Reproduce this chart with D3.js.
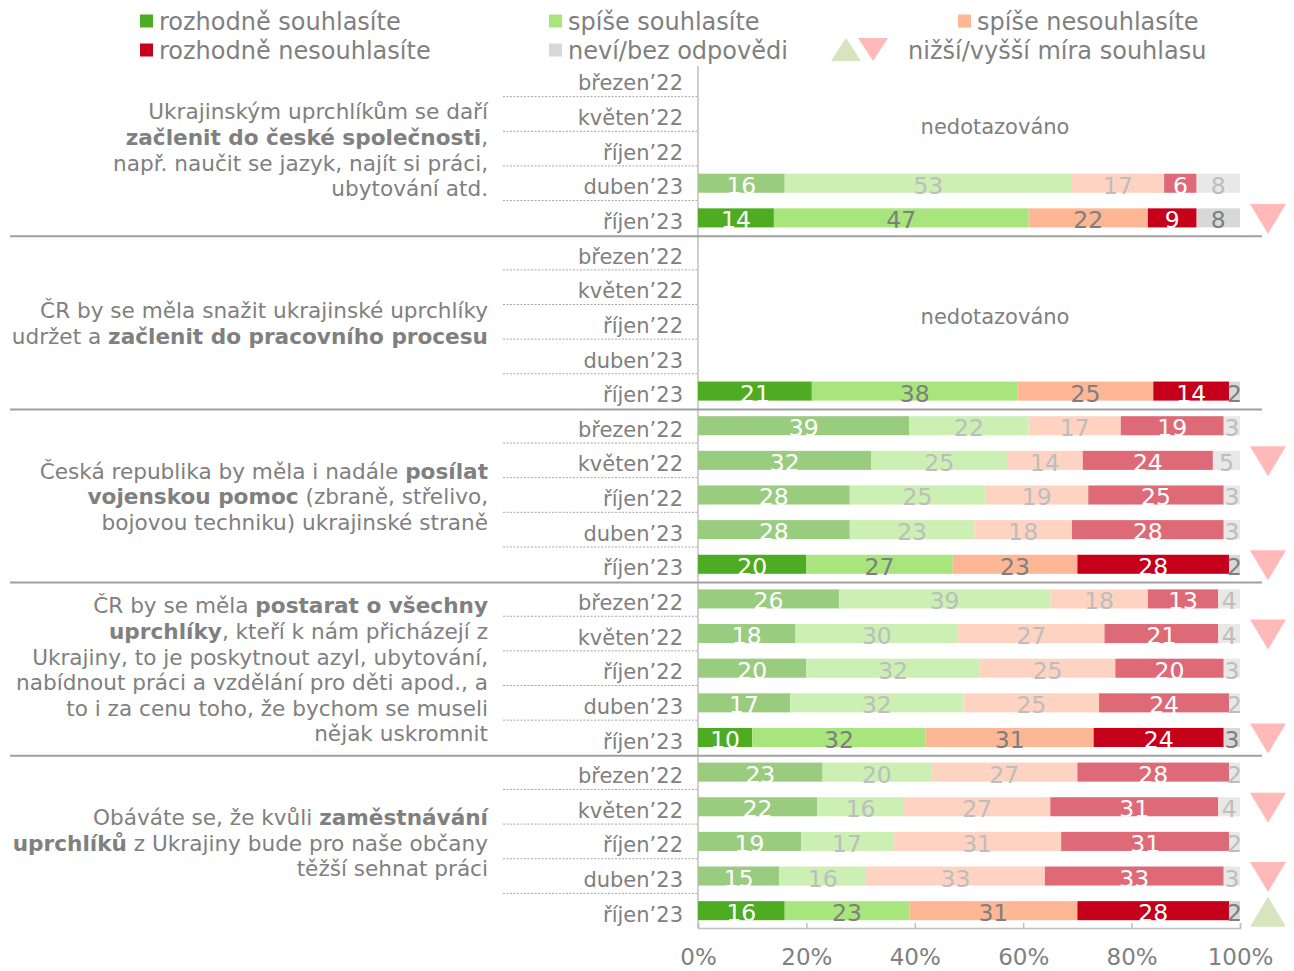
<!DOCTYPE html>
<html>
<head>
<meta charset="utf-8">
<script src="https://cdn.jsdelivr.net/npm/d3@7"></script>
<style>
  html, body { margin: 0; padding: 0; background: #fff; }
  svg { display: block; font-family: "DejaVu Sans", Verdana, sans-serif; }
</style>
</head>
<body>
<svg id="chart" width="1294" height="971"></svg>
<script>
// ---------------- DATA ----------------
const categories = ["rozhodně souhlasíte", "spíše souhlasíte", "spíše nesouhlasíte", "rozhodně nesouhlasíte", "neví/bez odpovědi"];
const waves = ["březen’22", "květen’22", "říjen’22", "duben’23", "říjen’23"];
const tickLabels = ["0%", "20%", "40%", "60%", "80%", "100%"];

// values per wave (null = nedotazováno)
const q1Values = [null, null, null, [16, 53, 17, 6, 8], [14, 47, 22, 9, 8]];
const q2Values = [null, null, null, null, [21, 38, 25, 14, 2]];
const q3Values = [[39, 22, 17, 19, 3], [32, 25, 14, 24, 5], [28, 25, 19, 25, 3], [28, 23, 18, 28, 3], [20, 27, 23, 28, 2]];
const q4Values = [[26, 39, 18, 13, 4], [18, 30, 27, 21, 4], [20, 32, 25, 20, 3], [17, 32, 25, 24, 2], [10, 32, 31, 24, 3]];
const q5Values = [[23, 20, 27, 28, 2], [22, 16, 27, 31, 4], [19, 17, 31, 31, 2], [15, 16, 33, 33, 3], [16, 23, 31, 28, 2]];

// significance markers per wave: "down" = lower agreement, "up" = higher
const q1Marks = [null, null, null, null, "down"];
const q2Marks = [null, null, null, null, null];
const q3Marks = [null, "down", null, null, "down"];
const q4Marks = [null, "down", null, null, "down"];
const q5Marks = [null, "down", null, "down", "up"];

// question texts (segments: [text, bold])
const q1Text = [
  [["Ukrajinským uprchlíkům se daří", false]],
  [["začlenit do české společnosti", true], [",", false]],
  [["např. naučit se jazyk, najít si práci,", false]],
  [["ubytování atd.", false]]
];
const q2Text = [
  [["ČR by se měla snažit ukrajinské uprchlíky", false]],
  [["udržet a ", false], ["začlenit do pracovního procesu", true]]
];
const q3Text = [
  [["Česká republika by měla i nadále ", false], ["posílat", true]],
  [["vojenskou pomoc", true], [" (zbraně, střelivo,", false]],
  [["bojovou techniku) ukrajinské straně", false]]
];
const q4Text = [
  [["ČR by se měla ", false], ["postarat o všechny", true]],
  [["uprchlíky", true], [", kteří k nám přicházejí z", false]],
  [["Ukrajiny, to je poskytnout azyl, ubytování,", false]],
  [["nabídnout práci a vzdělání pro děti apod., a", false]],
  [["to i za cenu toho, že bychom se museli", false]],
  [["nějak uskromnit", false]]
];
const q5Text = [
  [["Obáváte se, že kvůli ", false], ["zaměstnávání", true]],
  [["uprchlíků", true], [" z Ukrajiny bude pro naše občany", false]],
  [["těžší sehnat práci", false]]
];

const notAsked = "nedotazováno";
const markLegend = "nižší/vyšší míra souhlasu";

// ---------------- STYLE ----------------
const strongColors = ["#4EAC22", "#A8E57C", "#FDB794", "#C6001A", "#D8D8D8"];
const fadedColors  = ["#99CC7F", "#CCEFB4", "#FFD3C2", "#DF6A77", "#E8E8E8"];
const strongText = ["#FFFFFF", "#7F7F7F", "#7F7F7F", "#FFFFFF", "#7F7F7F"];
const fadedText  = ["#FFFFFF", "#BDBDBD", "#BDBDBD", "#FFFFFF", "#BDBDBD"];
const greyText = "#808080";
const downColor = "#FFB9B9";
const upColor = "#D7E4BD";

const questions = [
  { text: q1Text, values: q1Values, marks: q1Marks },
  { text: q2Text, values: q2Values, marks: q2Marks },
  { text: q3Text, values: q3Values, marks: q3Marks },
  { text: q4Text, values: q4Values, marks: q4Marks },
  { text: q5Text, values: q5Values, marks: q5Marks }
];

// ---------------- SCALES ----------------
const svg = d3.select("#chart");
const x = d3.scaleLinear().domain([0, 100]).range([698, 1240]);
const rowIds = d3.range(questions.length * waves.length);
const y = d3.scaleBand().domain(rowIds).range([62, 928]).paddingInner(0.45).paddingOuter(0.225);
const step = y.step();
const bw = y.bandwidth();
const rc = i => y(i) + bw / 2;           // row center
const rb = i => y(i) + bw / 2 + step / 2; // boundary below row

// ---------------- LEGEND ----------------
const legendItems = [
  { c: 0, x: 140, y: 21 }, { c: 1, x: 549, y: 21 }, { c: 2, x: 958, y: 21 },
  { c: 3, x: 140, y: 50 }, { c: 4, x: 549, y: 50 }
];
const lg = svg.append("g");
legendItems.forEach(it => {
  lg.append("rect").attr("x", it.x).attr("y", it.y - 6.5).attr("width", 13).attr("height", 13)
    .attr("fill", strongColors[it.c]);
  lg.append("text").attr("x", it.x + 19).attr("y", it.y).attr("dy", "0.36em")
    .attr("font-size", 24).attr("fill", greyText).text(categories[it.c]);
});
lg.append("path").attr("d", "M831,61 L846,38 L861,61 Z").attr("fill", upColor);
lg.append("path").attr("d", "M858,38 L888,38 L873,61 Z").attr("fill", downColor);
lg.append("text").attr("x", 908).attr("y", 50).attr("dy", "0.36em")
  .attr("font-size", 24).attr("fill", greyText).text(markLegend);

// ---------------- GRID / SEPARATORS ----------------
const grid = svg.append("g");
grid.append("line").attr("x1", x(0)).attr("x2", x(0)).attr("y1", 66).attr("y2", 928)
  .attr("stroke", "#BFBFBF").attr("stroke-width", 1.5);

questions.forEach((q, qi) => {
  waves.forEach((w, wi) => {
    const r = qi * waves.length + wi;
    if (wi < waves.length - 1) {
      grid.append("line").attr("x1", 503).attr("x2", 697).attr("y1", rb(r)).attr("y2", rb(r))
        .attr("stroke", "#A6A6A6").attr("stroke-width", 1).attr("stroke-dasharray", "2,1.5");
    } else if (qi < questions.length - 1) {
      grid.append("line").attr("x1", 10).attr("x2", 1262).attr("y1", rb(r) + 1).attr("y2", rb(r) + 1)
        .attr("stroke", "#A0A0A0").attr("stroke-width", 2);
    }
  });
});

// ---------------- ROWS ----------------
const body = svg.append("g");
questions.forEach((q, qi) => {
  const first = qi * waves.length;
  waves.forEach((w, wi) => {
    const r = first + wi;
    body.append("text").attr("x", 683).attr("y", rc(r) + 3.5).attr("dy", "0.36em")
      .attr("text-anchor", "end").attr("font-size", 21).attr("fill", greyText).text(w);
  });

  const mid = rc(first + 2) + 1.5;
  const lh = 25.6;
  const top = mid - (q.text.length - 1) * lh / 2;
  q.text.forEach((line, li) => {
    const t = body.append("text").attr("x", 488).attr("y", top + li * lh).attr("dy", "0.36em")
      .attr("text-anchor", "end").attr("font-size", 21.6).attr("fill", greyText);
    line.forEach(seg => {
      t.append("tspan").attr("font-weight", seg[1] ? "bold" : "normal").text(seg[0]);
    });
  });

  const missing = q.values.map((v, i) => v === null ? i : -1).filter(i => i >= 0);
  if (missing.length) {
    const a = rc(first + missing[0]), b = rc(first + missing[missing.length - 1]);
    body.append("text").attr("x", 995).attr("y", (a + b) / 2 + 12).attr("dy", "0.36em")
      .attr("text-anchor", "middle").attr("font-size", 21).attr("fill", greyText).text(notAsked);
  }

  q.values.forEach((vals, wi) => {
    if (!vals) return;
    const r = first + wi;
    const strong = wi === waves.length - 1;
    const fills = strong ? strongColors : fadedColors;
    const tcol = strong ? strongText : fadedText;
    const cum = d3.cumsum(vals);
    const segs = vals.map((v, k) => ({ v, k, x0: k === 0 ? 0 : cum[k - 1], x1: cum[k] }));
    const g = body.append("g");
    g.selectAll("rect").data(segs).join("rect")
      .attr("x", d => x(d.x0)).attr("width", d => x(d.x1) - x(d.x0))
      .attr("y", y(r)).attr("height", bw).attr("fill", d => fills[d.k]);
    g.selectAll("text").data(segs).join("text")
      .attr("x", d => (x(d.x0) + x(d.x1)) / 2).attr("y", rc(r) + 2).attr("dy", "0.36em")
      .attr("text-anchor", "middle").attr("font-size", 23.5)
      .attr("fill", d => tcol[d.k]).text(d => d.v);
  });

  q.marks.forEach((m, wi) => {
    if (!m) return;
    const cy = rc(first + wi) + 1, cx = 1268, hw = 18, hh = 15;
    const d = m === "down"
      ? `M${cx - hw},${cy - hh} L${cx + hw},${cy - hh} L${cx},${cy + hh} Z`
      : `M${cx - hw},${cy + hh} L${cx + hw},${cy + hh} L${cx},${cy - hh} Z`;
    body.append("path").attr("d", d).attr("fill", m === "down" ? downColor : upColor);
  });
});

// ---------------- X AXIS ----------------
const axis = d3.axisBottom(x).tickValues([0, 20, 40, 60, 80, 100])
  .tickFormat((d, i) => tickLabels[i]).tickSizeInner(-5).tickSizeOuter(-5).tickPadding(21);
const ax = svg.append("g").attr("transform", "translate(0,928)").call(axis);
ax.select(".domain").attr("stroke", "#BFBFBF").attr("stroke-width", 1.5);
ax.selectAll(".tick line").attr("stroke", "#BFBFBF").attr("stroke-width", 1.5);
ax.selectAll(".tick text").attr("font-size", 23).attr("fill", greyText)
  .attr("font-family", "DejaVu Sans, Verdana, sans-serif");
</script>
</body>
</html>
